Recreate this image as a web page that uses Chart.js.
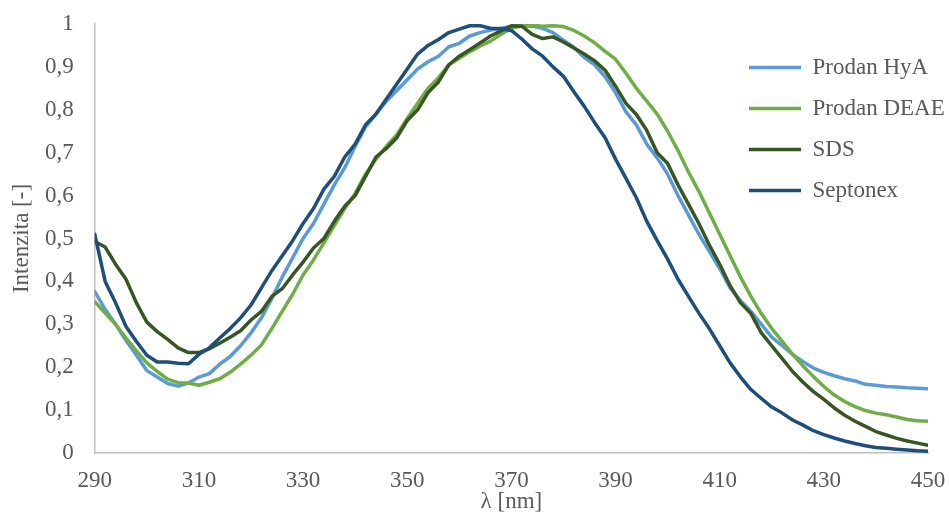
<!DOCTYPE html>
<html>
<head>
<meta charset="utf-8">
<script src="https://cdn.jsdelivr.net/npm/chart.js@4.4.1/dist/chart.umd.min.js"></script>
<style>
  html, body { margin: 0; padding: 0; background: #fff; }
  #wrap { width: 949px; height: 513px; }
</style>
</head>
<body>
<div id="wrap"><canvas id="spectraChart" width="949" height="513"></canvas></div>
<script>
// wavelength [nm]
const wavelengths = [
  290, 292, 294, 296, 298, 300, 302, 304, 306, 308,
  310, 312, 314, 316, 318, 320, 322, 324, 326, 328,
  330, 332, 334, 336, 338, 340, 342, 344, 346, 348,
  350, 352, 354, 356, 358, 360, 362, 364, 366, 368,
  370, 372, 374, 376, 378, 380, 382, 384, 386, 388,
  390, 392, 394, 396, 398, 400, 402, 404, 406, 408,
  410, 412, 414, 416, 418, 420, 422, 424, 426, 428,
  430, 432, 434, 436, 438, 440, 442, 444, 446, 448,
  450
];

const prodanHyA = [
  0.376, 0.335, 0.300, 0.262, 0.228, 0.192, 0.177, 0.162, 0.156, 0.163,
  0.177, 0.185, 0.207, 0.225, 0.250, 0.280, 0.315, 0.360, 0.410, 0.455,
  0.500, 0.535, 0.580, 0.625, 0.665, 0.715, 0.760, 0.790, 0.820, 0.845,
  0.870, 0.895, 0.912, 0.925, 0.947, 0.955, 0.972, 0.980, 0.986, 0.990,
  0.994, 0.996, 0.995, 0.990, 0.980, 0.962, 0.946, 0.922, 0.905, 0.877,
  0.840, 0.795, 0.765, 0.720, 0.688, 0.650, 0.600, 0.555, 0.510, 0.470,
  0.430, 0.385, 0.355, 0.330, 0.300, 0.270, 0.250, 0.230, 0.213, 0.198,
  0.188, 0.180, 0.173, 0.168, 0.160, 0.158, 0.155, 0.154, 0.152, 0.151,
  0.150
];

const prodanDEAE = [
  0.353, 0.326, 0.300, 0.268, 0.238, 0.210, 0.190, 0.172, 0.164, 0.163,
  0.158, 0.165, 0.173, 0.188, 0.207, 0.228, 0.252, 0.290, 0.330, 0.370,
  0.415, 0.450, 0.490, 0.530, 0.570, 0.605, 0.650, 0.685, 0.715, 0.742,
  0.780, 0.815, 0.850, 0.875, 0.905, 0.920, 0.935, 0.949, 0.960, 0.976,
  0.990, 0.996, 0.997, 0.995, 0.996, 0.994, 0.985, 0.972, 0.956, 0.936,
  0.918, 0.885, 0.850, 0.820, 0.790, 0.750, 0.705, 0.655, 0.610, 0.560,
  0.510, 0.460, 0.410, 0.365, 0.325, 0.290, 0.260, 0.230, 0.203, 0.178,
  0.155, 0.135, 0.120, 0.108, 0.099, 0.093, 0.089, 0.084, 0.078, 0.075,
  0.074
];

const sds = [
  0.493, 0.480, 0.440, 0.405, 0.350, 0.305, 0.283, 0.265, 0.245, 0.234,
  0.234, 0.243, 0.256, 0.270, 0.285, 0.310, 0.330, 0.365, 0.383, 0.415,
  0.445, 0.478, 0.500, 0.540, 0.575, 0.600, 0.645, 0.690, 0.710, 0.735,
  0.775, 0.800, 0.840, 0.865, 0.905, 0.925, 0.940, 0.956, 0.972, 0.984,
  0.996, 0.995, 0.976, 0.966, 0.970, 0.958, 0.944, 0.930, 0.914, 0.892,
  0.855, 0.815, 0.789, 0.752, 0.700, 0.675, 0.625, 0.580, 0.535, 0.485,
  0.440, 0.390, 0.350, 0.325, 0.280, 0.250, 0.220, 0.190, 0.165, 0.143,
  0.125, 0.105, 0.088, 0.074, 0.062, 0.050, 0.042, 0.034, 0.028, 0.023,
  0.018
];

const septonex = [
  0.510, 0.400, 0.350, 0.295, 0.260, 0.228, 0.212, 0.212, 0.209, 0.208,
  0.230, 0.245, 0.268, 0.290, 0.315, 0.345, 0.385, 0.425, 0.460, 0.495,
  0.535, 0.570, 0.615, 0.645, 0.690, 0.720, 0.765, 0.790, 0.825, 0.860,
  0.895, 0.930, 0.950, 0.964, 0.980, 0.988, 0.996, 0.996, 0.990, 0.989,
  0.985, 0.965, 0.942, 0.925, 0.900, 0.878, 0.842, 0.808, 0.770, 0.735,
  0.685, 0.640, 0.595, 0.540, 0.495, 0.452, 0.405, 0.365, 0.326, 0.290,
  0.250, 0.210, 0.177, 0.148, 0.127, 0.107, 0.093, 0.077, 0.065, 0.052,
  0.043, 0.035, 0.028, 0.022, 0.017, 0.013, 0.011, 0.009, 0.007, 0.005,
  0.004
];

const seriesNames = ['Prodan HyA', 'Prodan DEAE', 'SDS', 'Septonex'];
const seriesColors = ['#5B9BD5', '#70AD47', '#375623', '#1F4E79'];
const xTicks = [290, 310, 330, 350, 370, 390, 410, 430, 450];

const textColor = '#595959';
const serif = '"Liberation Serif", "Times New Roman", serif';

function toPoints(values) {
  return values.map((v, i) => ({ x: wavelengths[i], y: v }));
}

// Excel puts the legend inside the plot, on the right
const legendPlacer = {
  id: 'legendPlacer',
  afterLayout(chart) {
    const lg = chart.legend;
    if (!lg) return;
    lg.left = 731;
    lg.top = 38;
    lg.right = chart.width;
    lg.bottom = chart.height;
  }
};

const allSeries = [prodanHyA, prodanDEAE, sds, septonex];
const datasets = allSeries.map((vals, i) => ({
  label: seriesNames[i],
  data: toPoints(vals),
  borderColor: seriesColors[i],
  backgroundColor: seriesColors[i],
  borderWidth: 3.5,
  borderJoinStyle: 'round',
  borderCapStyle: 'round',
  pointRadius: 0,
  tension: 0,
  order: allSeries.length - i
}));

const ctx = document.getElementById('spectraChart').getContext('2d');
const spectraChart = new Chart(ctx, {
  type: 'line',
  data: { datasets: datasets },
  plugins: [legendPlacer],
  options: {
    responsive: false,
    animation: false,
    layout: { padding: { left: 0, right: 21, top: 24, bottom: 0 } },
    plugins: {
      tooltip: { enabled: false },
      legend: {
        position: 'chartArea',
        align: 'start',
        labels: {
          usePointStyle: true,
          pointStyle: 'line',
          pointStyleWidth: 52,
          padding: 18,
          color: textColor,
          font: { family: serif, size: 23 },
          sort: (a, b) => a.datasetIndex - b.datasetIndex
        }
      }
    },
    scales: {
      x: {
        type: 'linear',
        min: 290,
        max: 450,
        // grid hidden, tickLength only reserves room
        grid: { display: false, drawTicks: true, tickLength: 15 },
        border: { display: true, color: '#BFBFBF', width: 1.5 },
        afterBuildTicks: (axis) => { axis.ticks = xTicks.map(v => ({ value: v })); },
        ticks: {
          stepSize: 20,
          autoSkip: false,
          maxRotation: 0,
          padding: 1,
          color: textColor,
          font: { family: serif, size: 23, lineHeight: 1 }
        },
        title: {
          display: true,
          text: 'λ [nm]',
          color: textColor,
          padding: { top: -3, bottom: 0 },
          font: { family: serif, size: 23, lineHeight: 1 }
        }
      },
      y: {
        min: 0,
        max: 1,
        grid: { display: false, drawTicks: true, tickLength: 14 },
        border: { display: true, color: '#BFBFBF', width: 1.5 },
        ticks: {
          stepSize: 0.1,
          padding: 7,
          color: textColor,
          font: { family: serif, size: 23, lineHeight: 1.2 },
          callback: (v) => {
            const r = Math.round(v * 10) / 10;
            return r === 0 ? '0' : r === 1 ? '1' : r.toFixed(1).replace('.', ',');
          }
        },
        title: {
          display: true,
          text: 'Intenzita [-]',
          color: textColor,
          padding: { top: 10, bottom: 5 },
          font: { family: serif, size: 23, lineHeight: 1 }
        }
      }
    }
  }
});
</script>
</body>
</html>
